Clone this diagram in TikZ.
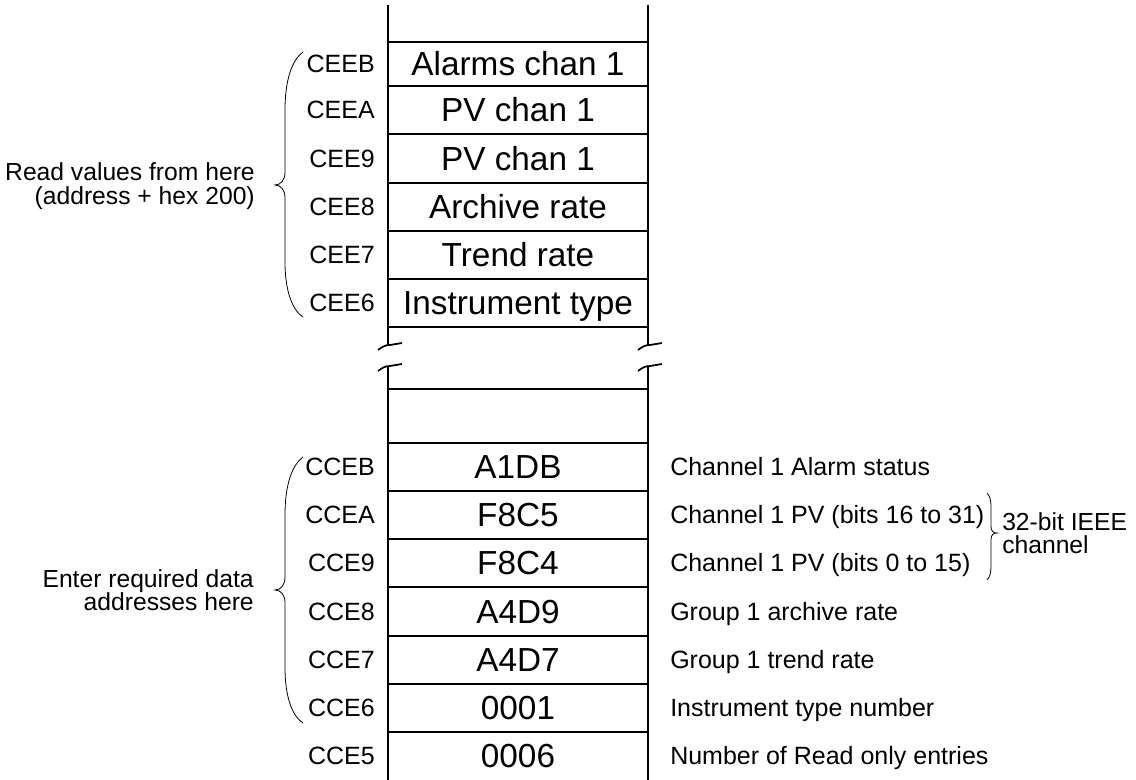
\documentclass[tikz,border=0pt]{standalone}
\usepackage{fontspec}
\setmainfont{Liberation Sans}
\begin{document}
\begin{tikzpicture}[x=0.75pt,y=-0.75pt,
  col/.style={line width=1.3pt},
  brc/.style={line width=0.6pt},
  addr/.style={anchor=east,font=\fontsize{18.75}{22}\selectfont,inner sep=0pt,text height=13.4pt,text depth=0pt},
  cell/.style={font=\fontsize{25}{30}\selectfont,inner sep=0pt,text height=17.9pt,text depth=0pt},
  desc/.style={anchor=west,font=\fontsize{18.75}{22}\selectfont,inner sep=0pt,text height=13.4pt,text depth=0pt},
  note/.style={font=\fontsize{18.5}{17.5}\selectfont,inner sep=0pt}]
\useasboundingbox (0,0) rectangle (1136,780);

% column verticals with break marks
\coordinate (LT) at (388,5);  \coordinate (LB1) at (388,345);
\coordinate (LB2) at (388,366); \coordinate (LE) at (388,780);
\coordinate (RT) at (648,5);  \coordinate (RB1) at (648,345);
\coordinate (RB2) at (648,366); \coordinate (RE) at (648,780);
\draw[col] (LT) -- (LB1);
\draw[col] (LB2) -- (LE);
\draw[col] (RT) -- (RB1);
\draw[col] (RB2) -- (RE);
\foreach \x in {388,648}{
  \draw[col] (\x-10,350) .. controls (\x-6,347) and (\x-3,345) .. (\x+2,345) -- (\x+14,343);
  \draw[col] (\x-10,371) .. controls (\x-6,368) and (\x-3,366) .. (\x+2,366) -- (\x+14,364);
}
% horizontal lines
\foreach \y in {42,86,134,183,231,279,327,389,443,491,539,587,636,684,732}{
  \draw[col] (388,\y) -- (648,\y);
}

% upper section
\node[addr] (a1) at (375,64) {CEEB};
\node[addr] (a2) at (375,110) {CEEA};
\node[addr] (a3) at (375,158.5) {CEE9};
\node[addr] (a4) at (375,207) {CEE8};
\node[addr] (a5) at (375,255) {CEE7};
\node[addr] (a6) at (375,303) {CEE6};
\node[cell] (c1) at (518,64) {Alarms chan 1};
\node[cell] (c2) at (518,110) {PV chan 1};
\node[cell] (c3) at (518,158.5) {PV chan 1};
\node[cell] (c4) at (518,207) {Archive rate};
\node[cell] (c5) at (518,255) {Trend rate};
\node[cell] (c6) at (518,303) {Instrument type};

% lower section
\node[addr] (b1) at (375,467) {CCEB};
\node[addr] (b2) at (375,515) {CCEA};
\node[addr] (b3) at (375,563) {CCE9};
\node[addr] (b4) at (375,611.5) {CCE8};
\node[addr] (b5) at (375,660) {CCE7};
\node[addr] (b6) at (375,708) {CCE6};
\node[addr] (b7) at (375,756) {CCE5};
\node[cell] (d1) at (518,467) {A1DB};
\node[cell] (d2) at (518,515) {F8C5};
\node[cell] (d3) at (518,563) {F8C4};
\node[cell] (d4) at (518,611.5) {A4D9};
\node[cell] (d5) at (518,660) {A4D7};
\node[cell] (d6) at (518,708) {0001};
\node[cell] (d7) at (518,756) {0006};
\node[desc] (e1) at (670,467) {Channel 1 Alarm status};
\node[desc] (e2) at (670,515) {Channel 1 PV (bits 16 to 31)};
\node[desc] (e3) at (670,563) {Channel 1 PV (bits 0 to 15)};
\node[desc] (e4) at (670,611.5) {Group 1 archive rate};
\node[desc] (e5) at (670,660) {Group 1 trend rate};
\node[desc] (e6) at (670,708) {Instrument type number};
\node[desc] (e7) at (670,756) {Number of Read only entries};

% notes
\node[note,align=right,anchor=east] (n1) at (255,186) {Read values from here\\(address + hex 200)};
\node[note,align=right,anchor=east] (n2) at (254,590) {Enter required data\\addresses here};
\node[note,align=left,anchor=west] (n3) at (1002,533) {32-bit IEEE\\channel};

% braces
\draw[brc] (303,52) .. controls (292,60) and (285,80) .. (285,110) -- (285,172)
  .. controls (285,180) and (281,185) .. (275,185)
  .. controls (281,185) and (285,190) .. (285,198) -- (285,262)
  .. controls (285,290) and (292,310) .. (303,317);
\draw[brc] (303,457) .. controls (292,465) and (285,485) .. (285,515) -- (285,577)
  .. controls (285,585) and (281,590) .. (275,590)
  .. controls (281,590) and (285,595) .. (285,603) -- (285,668)
  .. controls (285,696) and (292,716) .. (303,723);
\draw[brc] (987,493) .. controls (990,496) and (991,500) .. (991,508) -- (991,526)
  .. controls (991,531) and (993,533) .. (997,533)
  .. controls (993,533) and (991,535) .. (991,540) -- (991,565)
  .. controls (991,573) and (990,577) .. (987,580);
\end{tikzpicture}
\end{document}
